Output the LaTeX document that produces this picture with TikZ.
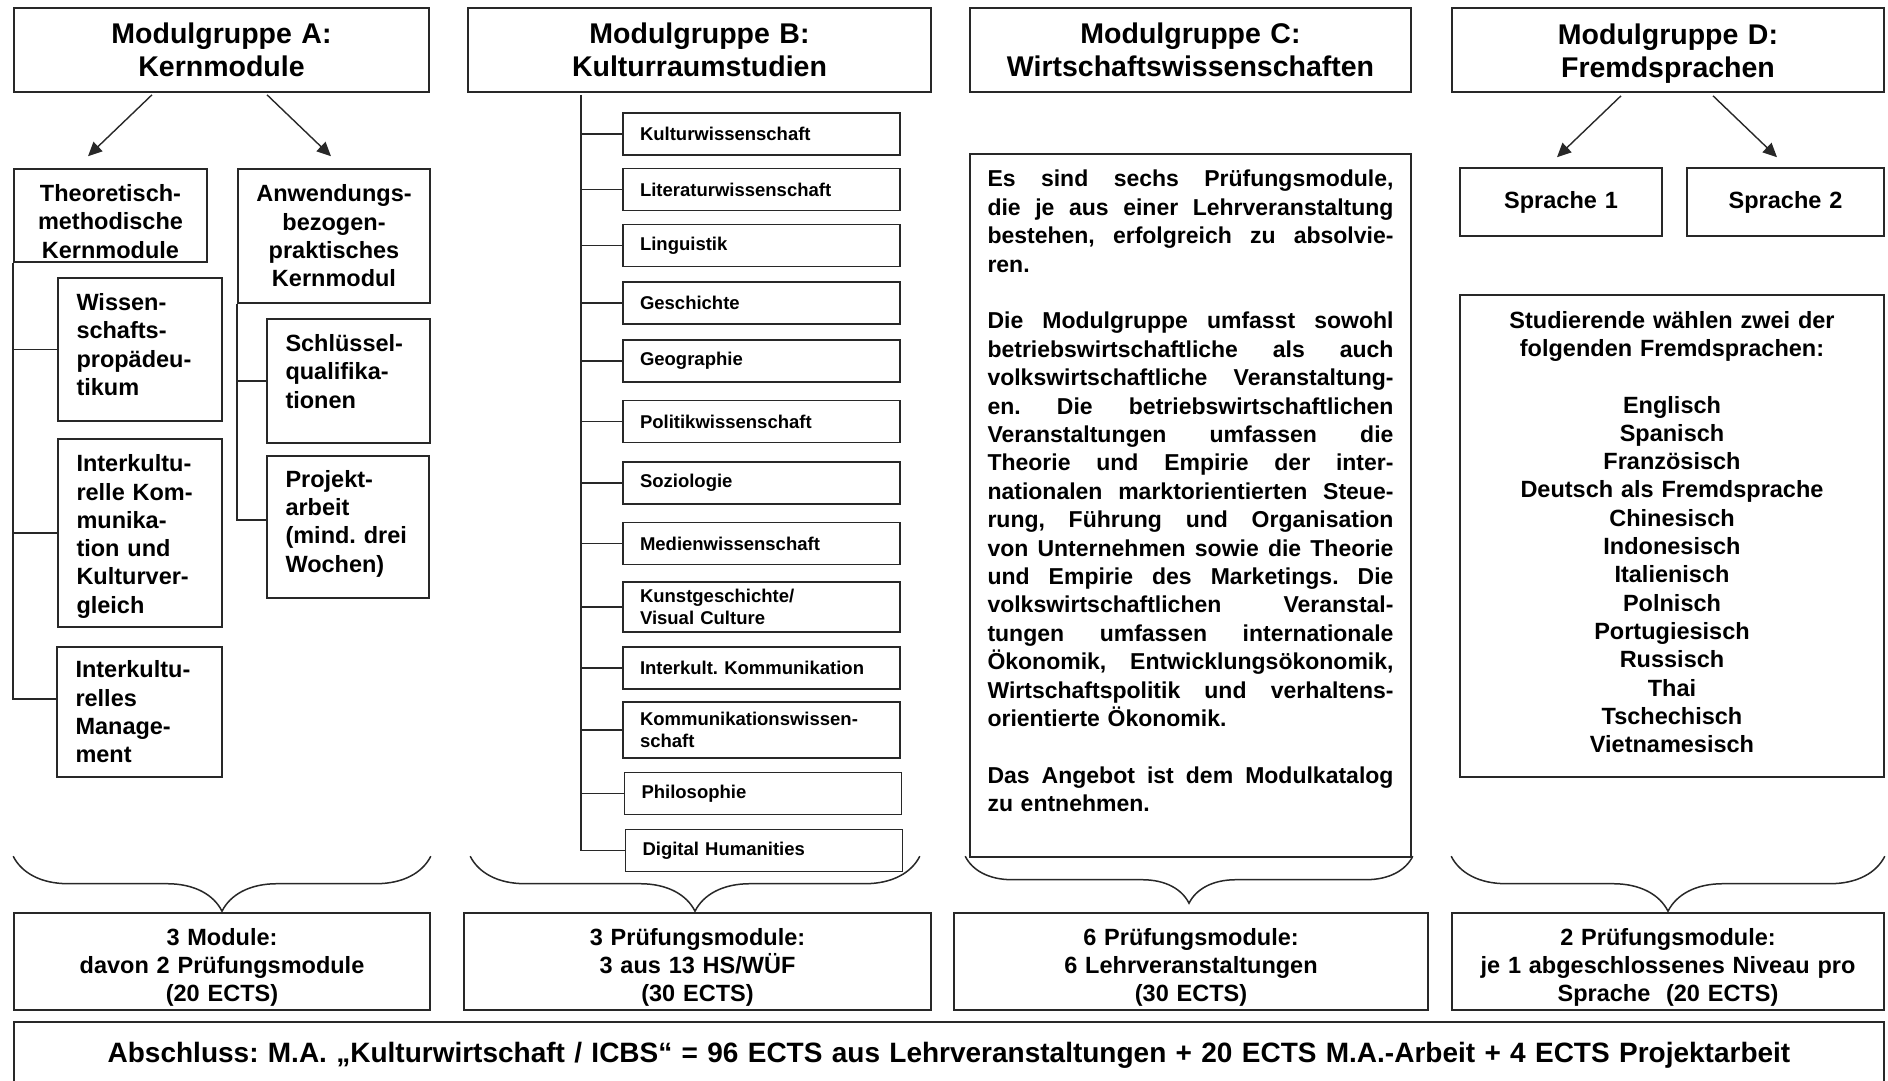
\documentclass[tikz,border=0pt]{standalone}
\usepackage{fontspec}
\setmainfont{Liberation Sans}
\usetikzlibrary{arrows.meta, decorations.pathreplacing}
\definecolor{dgry}{RGB}{40,40,40}
\frenchspacing
\newcommand{\jline}[1]{\leavevmode\hbox to 406pt{\spaceskip=.278em plus 1fil
  \xspaceskip=.278em plus 1fil\relax #1}\\}
\newcommand{\liftup}[1]{\par\vspace*{#1}\nointerlineskip\hbox{}}
\tikzset{
  % Header box of a module group
  HB/.style={rectangle,draw=dgry,text width=#1,minimum height=84pt,
             align=center,inner xsep=0pt,line width=1.6pt,
             font=\fontsize{28.5}{33}\selectfont\bfseries},
  % Box with centred text
  KB/.style={rectangle,draw=dgry,text width=#1,align=center,inner xsep=0pt,
             line width=1.6pt,font=\fontsize{23.5}{28.3}\selectfont\bfseries},
  % Box with left aligned text
  LB/.style={rectangle,draw=dgry,text width=#1,align=left,inner xsep=18.5pt,
             line width=1.6pt,font=\fontsize{23.5}{28.3}\selectfont\bfseries},
  % Small subject box of group B
  SB/.style={rectangle,draw=dgry,text width=243pt,align=left,inner xsep=17pt,
             inner ysep=3pt,minimum height=42pt,line width=1.6pt,
             font=\fontsize{18.5}{22}\selectfont\bfseries},
  % Justified text box of group C
  TX/.style={rectangle,draw=dgry,text width=#1,align=left,inner xsep=17.5pt,
             line width=1.6pt,font=\fontsize{23}{28.4}\selectfont\bfseries},
  % Connectors
  Arr/.style={-{Triangle[length=14pt,width=13pt]},line width=1.4pt,color=dgry},
  Ln/.style ={line width=1.5pt,color=dgry},
  Br/.style ={decorate,decoration={brace,mirror,amplitude=#1},
              line width=1.5pt,color=dgry},
  Br/.default=55pt,
}
\begin{document}
\begin{tikzpicture}[x=1pt,y=-1pt]
\useasboundingbox (0,0) rectangle (1888,1080);
% group headers
\node[HB=415pt] at (221.5,50) (hA) {Modulgruppe A:\\Kernmodule};
\node[HB=463pt] at (699.5,50) (hB) {Modulgruppe B:\\Kulturraumstudien};
\node[HB=441pt] at (1190.5,50) (hC) {Modulgruppe C:\\Wirtschaftswissenschaften};
\node[HB=432pt] at (1668,50) (hD) {Modulgruppe D:\\Fremdsprachen\liftup{-8pt}};

% group A
\node[KB=193pt,minimum height=93pt] at (110.5,215.5) (tm)
      {Theoretisch-\\methodische\\Kernmodule\liftup{-12pt}};
\node[KB=192pt,minimum height=134pt] at (334,236) (ab)
      {Anwendungs-\\bezogen-\\praktisches\\Kernmodul};
\draw[Arr] ([xshift=-69.5pt,yshift=-2pt]hA.south) -- ([xshift=-22.5pt,yshift=12pt]tm.north);
\draw[Arr] ([xshift=45.5pt,yshift=-2pt]hA.south) -- ([xshift=-3pt,yshift=12pt]ab.north);
\node[LB=127pt,minimum height=143pt] at (140,349.5) (wp)
      {Wissen-\\schafts-\\propädeu-\\tikum\liftup{10pt}};
\node[LB=127pt,minimum height=188pt] at (140,533) (ik)
      {Interkultu-\\relle Kom-\\munika-\\tion und\\Kulturver-\\gleich\liftup{-7pt}};
\node[LB=128pt,minimum height=130pt] at (139.5,712) (im)
      {Interkultu-\\relles\\Manage-\\ment};
\node[LB=126pt,minimum height=124pt] at (348.5,381) (sq)
      {Schlüssel-\\qualifika-\\tionen\liftup{19pt}};
\node[LB=125pt,minimum height=142pt] at (348,527) (pa)
      {Projekt-\\arbeit\\(mind.~drei\\Wochen)\liftup{7pt}};
\draw[Ln] (tm.south west) |- ([yshift=13pt]im.west);
\draw[Ln] (tm.south west |- wp.west) -- (wp.west);
\draw[Ln] (tm.south west |- ik.west) -- (ik.west);
\draw[Ln] (ab.south west) |- ([yshift=7pt]pa.west);
\draw[Ln] (ab.south west |- sq.west) -- (sq.west);

% group B
\coordinate (bt) at (581,95);
\node[SB] at (761.5,134) (kw) {Kulturwissenschaft};
\node[SB] at (761.5,189.5) (lw) {Literaturwissenschaft};
\node[SB] at (761.5,245.5) (li) {Linguistik};
\node[SB] at (761.5,303) (ge) {Geschichte};
\node[SB] at (761.5,361) (gg) {Geographie};
\node[SB] at (761.5,421.5) (pw) {Politikwissenschaft};
\node[SB] at (761.5,483) (so) {Soziologie};
\node[SB] at (761.5,543.5) (mw) {Medienwissenschaft};
\node[SB,minimum height=50pt] at (761.5,607) (kg) {Kunstgeschichte/\\Visual Culture};
\node[SB] at (761.5,668) (ki) {Interkult. Kommunikation};
\node[SB,minimum height=56pt] at (761.5,730) (kk) {Kommunikationswissen-\\schaft};
\node[SB] at (763,793.5) (ph) {Philosophie};
\node[SB] at (764,850.5) (dh) {Digital Humanities};
\draw[Ln] (bt) |- (dh.west);
\draw[Ln] (bt |- kw.west) -- (kw.west);
\draw[Ln] (bt |- lw.west) -- (lw.west);
\draw[Ln] (bt |- li.west) -- (li.west);
\draw[Ln] (bt |- ge.west) -- (ge.west);
\draw[Ln] (bt |- gg.west) -- (gg.west);
\draw[Ln] (bt |- pw.west) -- (pw.west);
\draw[Ln] (bt |- so.west) -- (so.west);
\draw[Ln] (bt |- mw.west) -- (mw.west);
\draw[Ln] (bt |- kg.west) -- (kg.west);
\draw[Ln] (bt |- ki.west) -- (ki.west);
\draw[Ln] (bt |- kk.west) -- (kk.west);
\draw[Ln] (bt |- ph.west) -- (ph.west);

% group C
\node[TX=406pt,minimum height=703pt] at (1190.5,505.5) (cx)
      {\jline{Es sind sechs Prüfungsmodule,}
       \jline{die je aus einer Lehrveranstaltung}
       \jline{bestehen, erfolgreich zu absolvie-}
       ren.\\[28.4pt]
       \jline{Die Modulgruppe umfasst sowohl}
       \jline{betriebswirtschaftliche als auch}
       \jline{volkswirtschaftliche Veranstaltung-}
       \jline{en. Die betriebswirtschaftlichen}
       \jline{Veranstaltungen umfassen die}
       \jline{Theorie und Empirie der inter-}
       \jline{nationalen marktorientierten Steue-}
       \jline{rung, Führung und Organisation}
       \jline{von Unternehmen sowie die Theorie}
       \jline{und Empirie des Marketings. Die}
       \jline{volkswirtschaftlichen Veranstal-}
       \jline{tungen umfassen internationale}
       \jline{Ökonomik, Entwicklungsökonomik,}
       \jline{Wirtschaftspolitik und verhaltens-}
       orientierte Ökonomik.\\[28.4pt]
       \jline{Das Angebot ist dem Modulkatalog}
       zu entnehmen.\liftup{29pt}};

% group D
\node[KB=202pt,minimum height=68pt] at (1561,202) (s1) {Sprache 1};
\node[KB=197pt,minimum height=68pt] at (1785.5,202) (s2) {Sprache 2};
\draw[Arr] ([xshift=-47pt,yshift=-3pt]hD.south) -- ([xshift=-4pt,yshift=10pt]s1.north);
\draw[Arr] ([xshift=45pt,yshift=-3pt]hD.south) -- ([xshift=-8.5pt,yshift=10pt]s2.north);
\node[KB=424pt,minimum height=482pt] at (1672,536) (sl)
      {Studierende wählen zwei der\\folgenden Fremdsprachen:\\[28.3pt]
       Englisch\\Spanisch\\Französisch\\Deutsch als Fremdsprache\\Chinesisch\\
       Indonesisch\\Italienisch\\Polnisch\\Portugiesisch\\Russisch\\Thai\\
       Tschechisch\\Vietnamesisch\liftup{8pt}};

% summaries
\node[KB=416pt,minimum height=97pt] at (222,961.5) (bA)
      {3 Module:\\davon 2 Prüfungsmodule\\(20 ECTS)\liftup{-12pt}};
\node[KB=467pt,minimum height=97pt] at (697.5,961.5) (bB)
      {3 Prüfungsmodule:\\3 aus 13 HS/WÜF\\(30 ECTS)\liftup{-12pt}};
\node[KB=474pt,minimum height=97pt] at (1191,961.5) (bC)
      {6 Prüfungsmodule:\\6 Lehrveranstaltungen\\(30 ECTS)\liftup{-12pt}};
\node[KB=432pt,minimum height=97pt] at (1668,961.5) (bD)
      {2 Prüfungsmodule:\\je 1 abgeschlossenes Niveau pro\\Sprache\ \ (20 ECTS)\liftup{-12pt}};
\draw[Br] ([yshift=56pt]bA.north west) -- ([yshift=56pt]bA.north east);
\draw[Br] ([xshift=7pt,yshift=56pt]bB.north west) -- ([xshift=-12pt,yshift=56pt]bB.north east);
\draw[Br=47pt] ([xshift=12pt,yshift=56pt]bC.north west) -- ([xshift=-16pt,yshift=56pt]bC.north east);
\draw[Br] ([yshift=56pt]bD.north west) -- ([yshift=56pt]bD.north east);

\node[HB=1870pt,minimum height=66pt,font=\fontsize{28}{33}\selectfont\bfseries]
      at (949,1055) (fin)
      {Abschluss: M.A. „Kulturwirtschaft / ICBS“ = 96 ECTS aus Lehrveranstaltungen + 20 ECTS M.A.-Arbeit + 4 ECTS Projektarbeit};
\end{tikzpicture}
\end{document}
